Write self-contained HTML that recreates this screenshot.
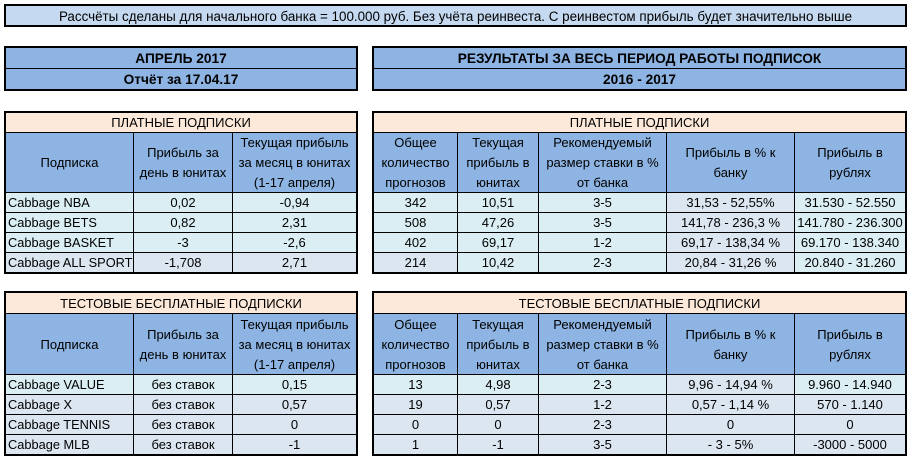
<!DOCTYPE html>
<html><head><meta charset="utf-8">
<style>
html,body{margin:0;padding:0;background:#fff;}
body{width:911px;height:461px;position:relative;overflow:hidden;font-family:"Liberation Sans","Noto Sans CJK SC",sans-serif;font-size:13px;color:#000;}
.box{position:absolute;box-sizing:border-box;}
.grid{position:absolute;display:grid;background:#000;padding:2px;gap:1px;box-sizing:border-box;}
.grid>div{display:flex;align-items:center;justify-content:center;text-align:center;line-height:20px;white-space:nowrap;overflow:hidden;padding-top:1px;box-sizing:border-box;}
.o{background:#fde9d9;grid-column:1/-1;}
.h{background:#8db4e2;}
.c{background:#daeef3;}
.g{background:#dce6f1;}
.l{justify-content:flex-start !important;padding-left:2px;font-size:12.8px;}
.b{font-weight:bold;font-size:13.7px;}
</style></head><body>

<div class="box" style="left:4px;top:4px;width:903px;height:23px;border:2px solid #000;background:#c5d9f1;display:flex;align-items:center;justify-content:center;font-size:13.4px;padding-top:1px;">Рассчёты сделаны для начального банка = 100.000 руб. Без учёта реинвеста. С реинвестом прибыль будет значительно выше</div>

<div class="grid" style="left:4px;top:46px;width:354px;height:45px;grid-template-columns:350px;grid-template-rows:20px 20px;">
<div class="h b">АПРЕЛЬ 2017</div>
<div class="h b">Отчёт за 17.04.17</div>
</div>

<div class="grid" style="left:372px;top:46px;width:535px;height:45px;grid-template-columns:531px;grid-template-rows:20px 20px;">
<div class="h b">РЕЗУЛЬТАТЫ ЗА ВЕСЬ ПЕРИОД РАБОТЫ ПОДПИСОК</div>
<div class="h b">2016 - 2017</div>
</div>

<!-- top left -->
<div class="grid" style="left:4px;top:111px;width:354px;height:163px;grid-template-columns:127px 98px 123px;grid-template-rows:19px 59px 19px 19px 19px 19px;">
<div class="o">ПЛАТНЫЕ ПОДПИСКИ</div>
<div class="h">Подписка</div>
<div class="h">Прибыль за<br>день в юнитах</div>
<div class="h">Текущая прибыль<br>за месяц в юнитах<br>(1-17 апреля)</div>
<div class="c l">Cabbage NBA</div><div class="c">0,02</div><div class="c">-0,94</div>
<div class="c l">Cabbage BETS</div><div class="c">0,82</div><div class="c">2,31</div>
<div class="c l">Cabbage BASKET</div><div class="c">-3</div><div class="c">-2,6</div>
<div class="g l">Cabbage ALL SPORT</div><div class="g">-1,708</div><div class="g">2,71</div>
</div>

<!-- top right -->
<div class="grid" style="left:372px;top:111px;width:535px;height:163px;grid-template-columns:83px 80px 127px 127px 110px;grid-template-rows:19px 59px 19px 19px 19px 19px;">
<div class="o">ПЛАТНЫЕ ПОДПИСКИ</div>
<div class="h">Общее<br>количество<br>прогнозов</div>
<div class="h">Текущая<br>прибыль в<br>юнитах</div>
<div class="h">Рекомендуемый<br>размер ставки в %<br>от банка</div>
<div class="h">Прибыль в % к<br>банку</div>
<div class="h">Прибыль в<br>рублях</div>
<div class="c">342</div><div class="c">10,51</div><div class="c">3-5</div><div class="g">31,53 - 52,55%</div><div class="c">31.530 - 52.550</div>
<div class="c">508</div><div class="c">47,26</div><div class="c">3-5</div><div class="g">141,78 - 236,3 %</div><div class="c">141.780 - 236.300</div>
<div class="c">402</div><div class="c">69,17</div><div class="c">1-2</div><div class="g">69,17 - 138,34 %</div><div class="c">69.170 - 138.340</div>
<div class="g">214</div><div class="c">10,42</div><div class="c">2-3</div><div class="g">20,84 - 31,26 %</div><div class="c">20.840 - 31.260</div>
</div>

<!-- bottom left -->
<div class="grid" style="left:4px;top:291px;width:354px;height:165px;grid-template-columns:127px 98px 123px;grid-template-rows:20px 60px 19px 19px 19px 19px;">
<div class="o">ТЕСТОВЫЕ БЕСПЛАТНЫЕ ПОДПИСКИ</div>
<div class="h">Подписка</div>
<div class="h">Прибыль за<br>день в юнитах</div>
<div class="h">Текущая прибыль<br>за месяц в юнитах<br>(1-17 апреля)</div>
<div class="c l">Cabbage VALUE</div><div class="c">без ставок</div><div class="c">0,15</div>
<div class="g l">Cabbage X</div><div class="g">без ставок</div><div class="g">0,57</div>
<div class="g l">Cabbage TENNIS</div><div class="g">без ставок</div><div class="g">0</div>
<div class="g l">Cabbage MLB</div><div class="g">без ставок</div><div class="g">-1</div>
</div>

<!-- bottom right -->
<div class="grid" style="left:372px;top:291px;width:535px;height:165px;grid-template-columns:83px 80px 127px 127px 110px;grid-template-rows:20px 60px 19px 19px 19px 19px;">
<div class="o">ТЕСТОВЫЕ БЕСПЛАТНЫЕ ПОДПИСКИ</div>
<div class="h">Общее<br>количество<br>прогнозов</div>
<div class="h">Текущая<br>прибыль в<br>юнитах</div>
<div class="h">Рекомендуемый<br>размер ставки в %<br>от банка</div>
<div class="h">Прибыль в % к<br>банку</div>
<div class="h">Прибыль в<br>рублях</div>
<div class="c">13</div><div class="c">4,98</div><div class="c">2-3</div><div class="g">9,96 - 14,94 %</div><div class="c">9.960 - 14.940</div>
<div class="g">19</div><div class="g">0,57</div><div class="g">1-2</div><div class="g">0,57 - 1,14 %</div><div class="g">570 - 1.140</div>
<div class="g">0</div><div class="g">0</div><div class="g">2-3</div><div class="g">0</div><div class="g">0</div>
<div class="g">1</div><div class="g">-1</div><div class="g">3-5</div><div class="g">- 3 - 5%</div><div class="g">-3000 - 5000</div>
</div>

</body></html>
